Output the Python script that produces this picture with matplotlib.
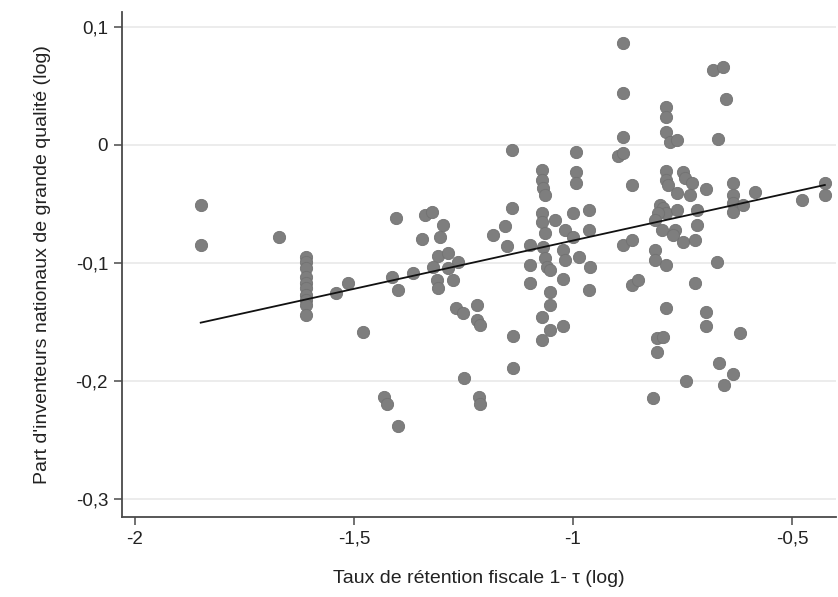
import matplotlib
matplotlib.use("Agg")
import matplotlib.pyplot as plt
import numpy as np

# ---- data ----
x_vals = [
    -1.850, -1.850, -1.671,
    -1.610, -1.610, -1.610, -1.610, -1.610, -1.610, -1.610, -1.610, -1.610, -1.610,
    -1.540, -1.514, -1.479,
    -1.140, -1.403, -1.338, -1.323, -1.296, -1.345, -1.304,
    -1.140, -1.155, -1.182, -1.151,
    -1.071, -1.071, -1.068, -1.064,
    -1.071, -1.071, -1.064,
    -1.098, -1.098, -1.098,
    -1.308, -1.285, -1.319, -1.262, -1.285, -1.414, -1.365, -1.399, -1.311, -1.308, -1.273,
    -1.266, -1.250, -1.220, -1.220, -1.212,
    -1.136,
    -1.068, -1.064, -1.060, -1.053, -1.053, -1.053, -1.071, -1.053, -1.071,
    -1.432, -1.425, -1.400, -1.249, -1.215, -1.212, -1.137,
    -1.041, -0.999, -0.963, -1.018, -0.963, -1.023, -1.018, -0.986, -0.961, -0.999,
    -1.023, -0.963, -1.023,
    -0.992, -0.992, -0.992,
    -0.897, -0.885,
    -0.885, -0.885, -0.885,
    -0.787, -0.787, -0.787, -0.779, -0.763,
    -0.680, -0.657, -0.651, -0.670,
    -0.866,
    -0.787, -0.787, -0.783, -0.748, -0.744, -0.729,
    -0.763, -0.733, -0.696,
    -0.635, -0.635, -0.635, -0.635, -0.611, -0.584, -0.478, -0.425, -0.425,
    -0.718, -0.718,
    -0.801, -0.794, -0.787, -0.805, -0.763,
    -0.813, -0.797, -0.767, -0.771,
    -0.885, -0.866,
    -0.748, -0.721,
    -0.813, -0.813, -0.787,
    -0.672,
    -0.866, -0.851,
    -0.787,
    -0.809, -0.794, -0.809,
    -0.818,
    -0.721,
    -0.696, -0.696,
    -0.619,
    -0.667, -0.635, -0.655, -0.742,
]
y_vals = [
    -0.0508, -0.0847, -0.0780,
    -0.0949, -0.0992, -0.1042, -0.1119, -0.1169, -0.1212, -0.1271, -0.1314, -0.1356, -0.1441,
    -0.1257, -0.1169, -0.1585,
    -0.0042, -0.0621, -0.0593, -0.0565, -0.0678, -0.0799, -0.0782,
    -0.0536, -0.0684, -0.0763, -0.0856,
    -0.0212, -0.0297, -0.0364, -0.0424,
    -0.0576, -0.0650, -0.0746,
    -0.0847, -0.1017, -0.1172,
    -0.0941, -0.0918, -0.1031, -0.0989, -0.1045, -0.1116, -0.1087, -0.1229, -0.1144, -0.1214, -0.1144,
    -0.1384, -0.1426, -0.1356, -0.1483, -0.1525,
    -0.1619,
    -0.0862, -0.0960, -0.1031, -0.1059, -0.1245, -0.1356, -0.1455, -0.1568, -0.1653,
    -0.2136, -0.2195, -0.2381, -0.1975, -0.2136, -0.2195, -0.1890,
    -0.0636, -0.0579, -0.0551, -0.0720, -0.0720, -0.0890, -0.0975, -0.0947, -0.1031, -0.0777,
    -0.1138, -0.1229, -0.1534,
    -0.0057, -0.0226, -0.0325,
    -0.0093, -0.0068,
    0.0867, 0.0438, 0.0065,
    0.0320, 0.0240, 0.0113, 0.0028, 0.0042,
    0.0636, 0.0664, 0.0390, 0.0048,
    -0.0339,
    -0.0218, -0.0297, -0.0339, -0.0226, -0.0282, -0.0325,
    -0.0409, -0.0424, -0.0375,
    -0.0325, -0.0424, -0.0494, -0.0565, -0.0508, -0.0396, -0.0466, -0.0325, -0.0424,
    -0.0551, -0.0678,
    -0.0508, -0.0536, -0.0579, -0.0579, -0.0551,
    -0.0636, -0.0720, -0.0720, -0.0763,
    -0.0847, -0.0805,
    -0.0820, -0.0805,
    -0.0890, -0.0975, -0.1017,
    -0.0989,
    -0.1186, -0.1144,
    -0.1379,
    -0.1638, -0.1625, -0.1752,
    -0.2147,
    -0.1167,
    -0.1413, -0.1534,
    -0.1596,
    -0.1850, -0.1941, -0.2034, -0.1997,
]

fit_x = [-1.85, -0.425]
fit_y = [-0.1506, -0.0339]

x_ticks = [-2, -1.5, -1, -0.5]
x_tick_labels = ["-2", "-1,5", "-1", "-0,5"]
y_ticks = [0.1, 0, -0.1, -0.2, -0.3]
y_tick_labels = ["0,1", "0", "-0,1", "-0,2", "-0,3"]

x_label = "Taux de rétention fiscale 1- τ (log)"
y_label = "Part d'inventeurs nationaux de grande qualité (log)"

# ---- figure ----
plt.rcParams['font.family'] = ['Liberation Sans', 'DejaVu Sans']
W, H = 838, 597
fig = plt.figure(figsize=(W / 100, H / 100), dpi=100)
ax = fig.add_axes([122 / W, 1 - 517 / H, (836 - 122) / W, (517 - 12) / H])

ax.set_xlim(-2.0297, -0.3995)
ax.set_ylim(-0.3153, 0.1127)

for yt in y_ticks:
    ax.axhline(yt, color='#ebebeb', lw=1.3, zorder=0)

ax.scatter(x_vals, y_vals, s=78, color='#7e7e7e', edgecolors='#727272',
           linewidths=0.6, zorder=2)
ax.plot(fit_x, fit_y, color='#111111', lw=1.3, zorder=3)

for side in ['top', 'right']:
    ax.spines[side].set_visible(False)
for side in ['left', 'bottom']:
    ax.spines[side].set_color('#4a4a4a')
    ax.spines[side].set_linewidth(1.3)

ax.set_xticks(x_ticks)
ax.set_xticklabels(x_tick_labels)
ax.set_yticks(y_ticks)
ax.set_yticklabels(y_tick_labels)
ax.tick_params(axis='both', direction='out', length=6, width=1.1, color='#4a4a4a',
               labelsize=13.5, labelcolor='#222222', pad=4)

ax.set_xlabel(x_label, fontsize=14, color='#222222', labelpad=16)
ax.set_ylabel(y_label, fontsize=14, color='#222222', labelpad=18)

fig.savefig("out.png", dpi=100)
